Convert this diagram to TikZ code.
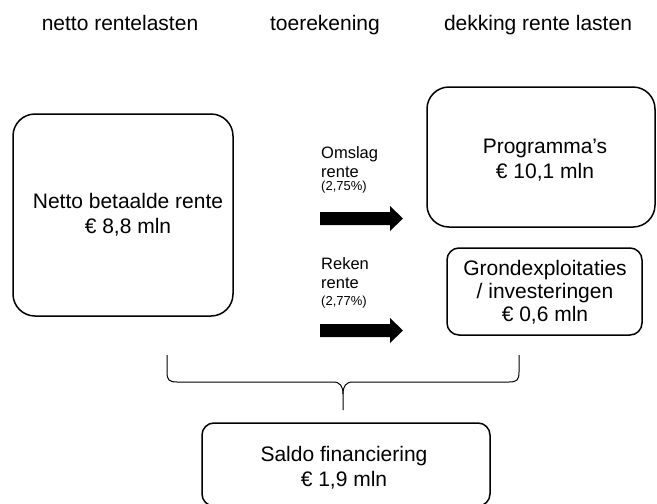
\documentclass[tikz,border=0pt]{standalone}
\usepackage{fontspec}
\setmainfont{Liberation Sans}
\begin{document}
\begin{tikzpicture}[x=1pt,y=-1pt,
  frame/.style={line width=1.5pt},
  box/.style={align=center,inner sep=0pt,font=\fontsize{21}{25}\selectfont},
  head/.style={font=\fontsize{21}{25}\selectfont,anchor=base,inner sep=0pt},
  lab/.style={font=\fontsize{16.5}{18.5}\selectfont,align=left,anchor=north west,inner sep=0pt},
  pct/.style={font=\fontsize{13}{15}\selectfont,anchor=base west,inner sep=0pt}]
\useasboundingbox (0,0) rectangle (657,504);
% headers
\node[head] (h1) at (120,30) {netto rentelasten};
\node[head] (h2) at (325,30) {toerekening};
\node[head] (h3) at (538,30) {dekking rente lasten};
% boxes
\draw[frame,rounded corners=22pt] (13,114) rectangle (233,316);
\node[box] (netto) at (128,214.5) {Netto betaalde rente\\€ 8,8 mln};
\draw[frame,rounded corners=22pt] (427,87) rectangle (655,227);
\node[box] (prog) at (545,160) {Programma’s\\€ 10,1 mln};
\draw[frame,rounded corners=12pt] (447,248) rectangle (642,335);
\node[box,font=\fontsize{21}{23}\selectfont] (grond) at (545,292) {Grondexploitaties\\/ investeringen\\€ 0,6 mln};
\draw[frame,rounded corners=12pt] (202,423) rectangle (490,506);
\node[box] (saldo) at (344,468) {Saldo financiering\\€ 1,9 mln};
% arrow labels
\node[lab] (l1) at (321,146.5) {Omslag\\rente};
\node[pct] (p1) at (321,190.5) {(2,75\%)};
\node[lab] (l2) at (321,257.5) {Reken\\rente};
\node[pct] (p2) at (321,305) {(2,77\%)};
% block arrows
\fill (320,212) -- (390,212) -- (390,206) -- (403,218.5) -- (390,231) -- (390,225) -- (320,225) -- cycle;
\fill (320,324) -- (390,324) -- (390,318) -- (403,330.5) -- (390,343) -- (390,337) -- (320,337) -- cycle;
% brace
\coordinate (bl) at (167,355);
\coordinate (br) at (519,355);
\coordinate (bt) at (343,410);
\draw[line width=1pt] (bl) -- (167,372) .. controls (167,380) and (169,382) .. (177,382)
  -- (333,382) .. controls (340,382) and (343,386) .. (343,394) -- (bt);
\draw[line width=1pt] (br) -- (519,372) .. controls (519,380) and (517,382) .. (509,382)
  -- (353,382) .. controls (346,382) and (343,386) .. (343,394);
\end{tikzpicture}
\end{document}
